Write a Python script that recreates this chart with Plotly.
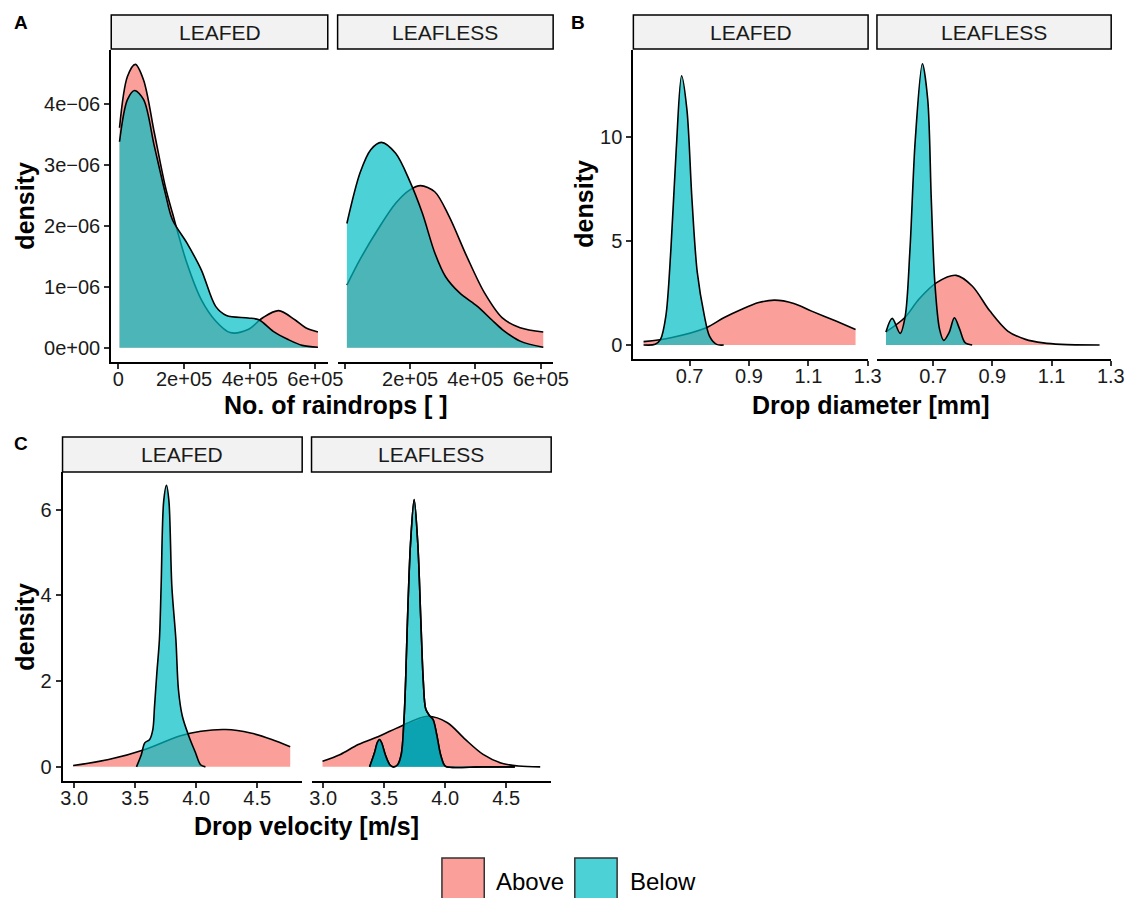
import numpy as np
import plotly.graph_objects as go

W, H = 1139, 898
FONT = "Liberation Sans, Arial, Helvetica, sans-serif"
RED_FILL = "rgba(248,118,109,0.7)"
BLUE_FILL = "rgba(0,191,196,0.7)"
DARK_OVERLAP = "rgba(0,160,176,0.85)"

# ---------------- data ----------------
# Panel A: No. of raindrops
a_leafed_above_x = [3300, 27400, 51600, 76800, 109700, 142600, 164600, 208500, 252400, 296200,
                    340100, 395000, 438800, 488200, 537600, 570500, 607800]
a_leafed_above_y = [3.61e-6, 4.45e-6, 4.65e-6, 4.39e-6, 3.52e-6, 2.65e-6, 2.21e-6, 1.39e-6, 0.79e-6,
                    0.44e-6, 0.25e-6, 0.30e-6, 0.49e-6, 0.61e-6, 0.46e-6, 0.33e-6, 0.26e-6]
a_leafed_below_x = [3300, 27400, 49400, 76800, 109700, 142600, 164600, 208500, 252400, 296200,
                    329100, 395000, 427900, 471700, 515600, 559500, 607800]
a_leafed_below_y = [3.38e-6, 4.07e-6, 4.22e-6, 4.07e-6, 3.30e-6, 2.54e-6, 2.10e-6, 1.72e-6, 1.28e-6,
                    0.68e-6, 0.53e-6, 0.49e-6, 0.46e-6, 0.27e-6, 0.14e-6, 0.04e-6, 0.01e-6]
a_leafless_above_x = [6500, 46800, 101200, 155700, 199200, 231900, 275400, 319000, 373400, 427800,
                      482300, 536700, 607500]
a_leafless_above_y = [1.03e-6, 1.45e-6, 1.94e-6, 2.37e-6, 2.59e-6, 2.66e-6, 2.56e-6, 2.16e-6, 1.50e-6,
                      0.90e-6, 0.49e-6, 0.33e-6, 0.26e-6]
a_leafless_below_x = [6500, 46800, 79500, 112100, 155700, 199200, 237300, 275400, 308100, 351600,
                      406100, 449600, 482300, 536700, 607500]
a_leafless_below_y = [2.04e-6, 2.87e-6, 3.25e-6, 3.37e-6, 3.19e-6, 2.73e-6, 2.21e-6, 1.56e-6, 1.17e-6,
                      0.90e-6, 0.68e-6, 0.46e-6, 0.30e-6, 0.11e-6, 0.01e-6]

# Panel B: Drop diameter [mm]
b_leafed_above_x = [0.545, 0.637, 0.756, 0.815, 0.874, 0.933, 0.986, 1.051, 1.111, 1.193, 1.259]
b_leafed_above_y = [0.16, 0.35, 0.83, 1.31, 1.71, 2.04, 2.16, 2.00, 1.63, 1.15, 0.75]
b_leafed_below_x = [0.545, 0.584, 0.602, 0.620, 0.637, 0.655, 0.673, 0.691, 0.708, 0.726, 0.750,
                    0.767, 0.791, 0.815]
b_leafed_below_y = [0.0, 0.03, 0.27, 1.39, 4.60, 9.41, 12.96, 11.33, 7.00, 3.48, 1.39, 0.43, 0.03, 0.0]
b_leafless_above_x = [0.541, 0.604, 0.652, 0.712, 0.778, 0.832, 0.892, 0.952, 1.012, 1.072, 1.132, 1.262]
b_leafless_above_y = [0.63, 1.31, 2.20, 3.00, 3.35, 2.84, 1.63, 0.67, 0.27, 0.10, 0.03, 0.0]
b_leafless_below_x = [0.541, 0.562, 0.589, 0.606, 0.622, 0.640, 0.664, 0.682, 0.694, 0.706, 0.722,
                      0.736, 0.754, 0.772, 0.790, 0.808, 0.832]
b_leafless_below_y = [0.63, 1.28, 0.56, 1.39, 4.60, 9.89, 13.54, 11.81, 7.00, 3.00, 0.75, 0.22, 0.59,
                      1.31, 0.75, 0.11, 0.0]

# Panel C: Drop velocity [m/s]
c_leafed_above_x = [2.991, 3.282, 3.573, 3.863, 4.038, 4.241, 4.445, 4.619, 4.770]
c_leafed_above_y = [0.03, 0.17, 0.40, 0.72, 0.83, 0.87, 0.79, 0.64, 0.47]
c_leafed_below_x = [3.51, 3.55, 3.578, 3.618, 3.644, 3.658, 3.677, 3.698, 3.712, 3.733, 3.756, 3.776,
                    3.80, 3.833, 3.854, 3.886, 3.94, 3.994, 4.035, 4.075]
c_leafed_below_y = [0.0, 0.29, 0.56, 0.64, 0.87, 1.41, 2.19, 2.97, 4.21, 6.2, 6.57, 6.2, 4.21, 2.97,
                    1.80, 1.18, 0.71, 0.33, 0.05, 0.0]
c_leafless_above_x = [2.994, 3.14, 3.287, 3.462, 3.637, 3.857, 4.018, 4.164, 4.31, 4.456, 4.60, 4.778]
c_leafless_above_y = [0.13, 0.29, 0.52, 0.72, 0.95, 1.18, 1.03, 0.64, 0.29, 0.09, 0.02, 0.0]
c_leafless_below_x = [3.38, 3.42, 3.445, 3.462, 3.48, 3.51, 3.545, 3.575, 3.61, 3.64, 3.66, 3.675,
                      3.69, 3.715, 3.745, 3.775, 3.80, 3.82, 3.84, 3.87, 3.90, 3.93, 3.96, 3.99,
                      4.01, 4.3, 4.57]
c_leafless_below_y = [0.0, 0.33, 0.58, 0.64, 0.55, 0.27, 0.05, 0.0, 0.05, 0.3, 1.0, 2.0, 3.4, 5.2,
                      6.24, 5.2, 3.4, 2.0, 1.35, 1.2, 1.1, 0.75, 0.3, 0.05, 0.0, 0.0, 0.0]

facet_labels = ["LEAFED", "LEAFLESS"]
groups = ["Above", "Below"]

a_ticks = [0, 2e5, 4e5, 6e5]
a_ticktext_leafed = ["0", "2e+05", "4e+05", "6e+05"]
a_ticktext_leafless = ["", "2e+05", "4e+05", "6e+05"]
a_yticks = [0, 1e-6, 2e-6, 3e-6, 4e-6]
a_yticktext = ["0e+00", "1e\u221206", "2e\u221206", "3e\u221206", "4e\u221206"]
b_ticks = [0.7, 0.9, 1.1, 1.3]
b_ticktext = ["0.7", "0.9", "1.1", "1.3"]
b_yticks = [0, 5, 10]
c_ticks = [3.0, 3.5, 4.0, 4.5]
c_ticktext = ["3.0", "3.5", "4.0", "4.5"]
c_yticks = [0, 2, 4, 6]

# ---------------- layout geometry (pixels) ----------------
def fx(p):
    return p / W

def fy(p):
    return 1 - p / H

# (x0, x1, ytop, ybottom)
panels = {
    "A1": (111, 331, 50, 362), "A2": (341, 560, 50, 362),
    "B1": (641.5, 880, 50, 359), "B2": (889, 1127, 50, 359),
    "C1": (61.5, 305, 472, 781), "C2": (314.5, 558, 472, 781),
}
order = ["A1", "A2", "B1", "B2", "C1", "C2"]
xranges = {"A": [-2.19e4, 6.378e5], "B": [0.5106, 1.3012], "C": [2.904, 4.868]}
yranges = {"A": [-0.2325e-6, 4.885e-6], "B": [-0.675, 14.2], "C": [-0.33, 6.88]}

series = {
    "A1": (a_leafed_above_x, a_leafed_above_y, a_leafed_below_x, a_leafed_below_y),
    "A2": (a_leafless_above_x, a_leafless_above_y, a_leafless_below_x, a_leafless_below_y),
    "B1": (b_leafed_above_x, b_leafed_above_y, b_leafed_below_x, b_leafed_below_y),
    "B2": (b_leafless_above_x, b_leafless_above_y, b_leafless_below_x, b_leafless_below_y),
    "C1": (c_leafed_above_x, c_leafed_above_y, c_leafed_below_x, c_leafed_below_y),
    "C2": (c_leafless_above_x, c_leafless_above_y, c_leafless_below_x, c_leafless_below_y),
}

fig = go.Figure()
layout_axes = {}
for i, key in enumerate(order, start=1):
    xa = "x" if i == 1 else f"x{i}"
    ya = "y" if i == 1 else f"y{i}"
    ax, ay, bx, by = series[key]
    line = dict(color="black", width=1.6, shape="spline", smoothing=0.9)
    fig.add_trace(go.Scatter(x=ax, y=ay, mode="lines", line=line, fill="tozeroy",
                             fillcolor=RED_FILL, xaxis=xa, yaxis=ya, showlegend=False,
                             hoverinfo="skip", name=groups[0]))
    fig.add_trace(go.Scatter(x=bx, y=by, mode="lines", line=line, fill="tozeroy",
                             fillcolor=BLUE_FILL, xaxis=xa, yaxis=ya, showlegend=False,
                             hoverinfo="skip", name=groups[1]))
    if key == "C2":
        # darker overlap region seen in the leafless velocity panel
        bxa = np.array(bx)
        ov = np.minimum(np.array(by), np.interp(bxa, ax, ay))
        fig.add_trace(go.Scatter(x=bxa, y=ov, mode="lines",
                                 line=dict(color="rgba(0,0,0,0)", width=0, shape="spline", smoothing=0.9),
                                 fill="tozeroy", fillcolor=DARK_OVERLAP, xaxis=xa, yaxis=ya,
                                 showlegend=False, hoverinfo="skip"))
        fig.add_trace(go.Scatter(x=bx, y=by, mode="lines", line=line, xaxis=xa, yaxis=ya,
                                 showlegend=False, hoverinfo="skip"))

    x0, x1, yt, yb = panels[key]
    letter = key[0]
    left = key.endswith("1")
    if letter == "A":
        tv, tt = a_ticks, (a_ticktext_leafed if left else a_ticktext_leafless)
        ytv, ytt = a_yticks, a_yticktext
    elif letter == "B":
        tv, tt = b_ticks, b_ticktext
        ytv, ytt = b_yticks, [str(v) for v in b_yticks]
    else:
        tv, tt = c_ticks, c_ticktext
        ytv, ytt = c_yticks, [str(v) for v in c_yticks]
    xname = "xaxis" if i == 1 else f"xaxis{i}"
    yname = "yaxis" if i == 1 else f"yaxis{i}"
    layout_axes[xname] = dict(
        domain=[fx(x0), fx(x1)], anchor=ya, range=xranges[letter], showgrid=False,
        zeroline=False, showline=True, linecolor="black", linewidth=2,
        ticks="outside", ticklen=5, tickwidth=1.5, tickcolor="#333333",
        ticklabelstandoff=-7,
        tickvals=tv, ticktext=tt, tickfont=dict(family=FONT, size=20, color="#1a1a1a"),
    )
    layout_axes[yname] = dict(
        domain=[fy(yb), fy(yt)], anchor=xa, range=yranges[letter], showgrid=False,
        zeroline=False, showline=left, linecolor="black", linewidth=2,
        ticks="outside" if left else "", ticklen=5, tickwidth=1.5, tickcolor="#333333",
        tickvals=ytv, ticktext=ytt, showticklabels=left,
        tickfont=dict(family=FONT, size=20, color="#1a1a1a"),
    )

shapes = []
annotations = []
strip_rows = {"A": (15, 49), "B": (15, 49), "C": (437, 472)}
for key in order:
    x0, x1, yt, yb = panels[key]
    s0, s1 = strip_rows[key[0]]
    shapes.append(dict(type="rect", xref="paper", yref="paper", x0=fx(x0), x1=fx(x1),
                       y0=fy(s1), y1=fy(s0), fillcolor="#F2F2F2",
                       line=dict(color="black", width=1.5), layer="above"))
    annotations.append(dict(xref="paper", yref="paper", x=fx((x0 + x1) / 2), y=fy((s0 + s1) / 2),
                            text=facet_labels[0] if key.endswith("1") else facet_labels[1],
                            showarrow=False, xanchor="center", yanchor="middle",
                            font=dict(family=FONT, size=21, color="#1a1a1a")))

def add_text(x, y, text, size, bold=False, angle=0, xanchor="center"):
    annotations.append(dict(xref="paper", yref="paper", x=fx(x), y=fy(y),
                            text=f"<b>{text}</b>" if bold else text, showarrow=False,
                            textangle=angle, xanchor=xanchor, yanchor="middle",
                            font=dict(family=FONT, size=size, color="black")))

add_text(19, 22, "A", 19, bold=True)
add_text(585, 22, "B", 19, bold=True)
add_text(19, 443, "C", 19, bold=True)
add_text(339, 405, "No. of raindrops [ ]", 25, bold=True)
add_text(883, 405, "Drop diameter [mm]", 25, bold=True)
add_text(309, 826, "Drop velocity [m/s]", 25, bold=True)
add_text(23, 206, "density", 25, bold=True, angle=-90)
add_text(591, 204, "density", 25, bold=True, angle=-90)
add_text(23, 627, "density", 25, bold=True, angle=-90)

# legend (drawn manually to match large ggplot keys)
legend_items = [(447, 490, 500, groups[0], RED_FILL), (582, 625, 636, groups[1], BLUE_FILL)]
for k0, k1, tx, label, col in legend_items:
    shapes.append(dict(type="rect", xref="paper", yref="paper", x0=fx(k0), x1=fx(k1),
                       y0=fy(902), y1=fy(858), fillcolor=col,
                       line=dict(color="#333333", width=1.5)))
    add_text(tx, 881, label, 24, xanchor="left")

fig.update_layout(
    width=W, height=H, margin=dict(l=0, r=0, t=0, b=0), autosize=False,
    paper_bgcolor="white", plot_bgcolor="white", showlegend=False,
    shapes=shapes, annotations=annotations, **layout_axes,
)

fig.write_html("out.html")
